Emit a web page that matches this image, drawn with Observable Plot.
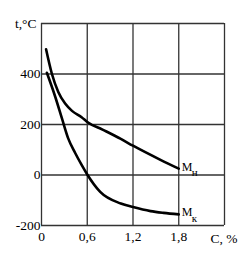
<!DOCTYPE html>
<html><head><meta charset="utf-8">
<script src="https://cdn.jsdelivr.net/npm/d3@7"></script>
<script src="https://cdn.jsdelivr.net/npm/@observablehq/plot@0.6"></script>
<style>
body{margin:0;background:#fff}
svg, svg text{font-family:"Liberation Serif","Times New Roman",serif !important;}
</style>
</head><body><div id="chart"></div>
<script>
// Mн (upper) curve
const mnC = [0.06, 0.135, 0.22, 0.31, 0.40, 0.53, 0.60, 0.80, 1.04, 1.20, 1.56, 1.80];
const mnT = [498, 402, 329, 283, 254, 228, 210, 180, 143, 116, 60, 25];
// Mк (lower) curve
const mkC = [0.07, 0.18, 0.27, 0.35, 0.44, 0.53, 0.60, 0.77, 1.04, 1.20, 1.43, 1.60, 1.80];
const mkT = [405, 310, 222, 145, 88, 38, 2, -67, -113, -127, -143, -150, -156];
const xGrid = [0, 0.6, 1.2, 1.8, 2.4];
const yGrid = [-200, 0, 200, 400, 600];
const xTicks = [0, 0.6, 1.2, 1.8];
const yTicks = [-200, 0, 200, 400];
const labels = [{c: 1.8, t: 25, main: "M", sub: "н"}, {c: 1.8, t: -156, main: "M", sub: "к"}];

const mn = mnC.map((c, i) => ({c, t: mnT[i]}));
const mk = mkC.map((c, i) => ({c, t: mkT[i]}));
const fmt = d => d === 0 ? "0" : d.toFixed(1).replace(".", ",");
const serif = "Liberation Serif, Times New Roman, serif";

const plot = Plot.plot({
  width: 240, height: 264,
  marginLeft: 41, marginTop: 23, marginRight: 16, marginBottom: 39,
  style: {fontFamily: serif, fontSize: "13px", background: "#fff", color: "#000"},
  x: {domain: [0, 2.4]},
  y: {domain: [-200, 600]},
  marks: [
    Plot.ruleX(xGrid, {stroke: "#333", strokeWidth: 1.3}),
    Plot.ruleY(yGrid, {stroke: "#333", strokeWidth: 1.3}),
    Plot.axisX(xTicks, {tickSize: 0, tickPadding: 6, tickFormat: fmt, label: null, fontSize: 13.5}),
    Plot.axisY(yTicks, {tickSize: 0, tickPadding: 1, tickFormat: d => String(d), label: null, fontSize: 13.5}),
    Plot.line(mn, {x: "c", y: "t", curve: "monotone-x", stroke: "#000", strokeWidth: 2.6}),
    Plot.line(mk, {x: "c", y: "t", curve: "monotone-x", stroke: "#000", strokeWidth: 2.6}),
    Plot.text(labels, {x: "c", y: "t", text: "main", textAnchor: "start", dx: 3, dy: -2, fontSize: 12}),
    Plot.text(labels, {x: "c", y: "t", text: "sub", textAnchor: "start", dx: 13, dy: 4, fontSize: 11}),
    Plot.text(["t,°C"], {x: 0, y: 600, textAnchor: "end", dx: -5, fontSize: 13.5}),
    Plot.text(["C, %"], {x: 2.4, y: -200, textAnchor: "end", dx: 13, dy: 13, fontSize: 13.5})
  ]
});
document.getElementById("chart").append(plot);
</script>
</body></html>
